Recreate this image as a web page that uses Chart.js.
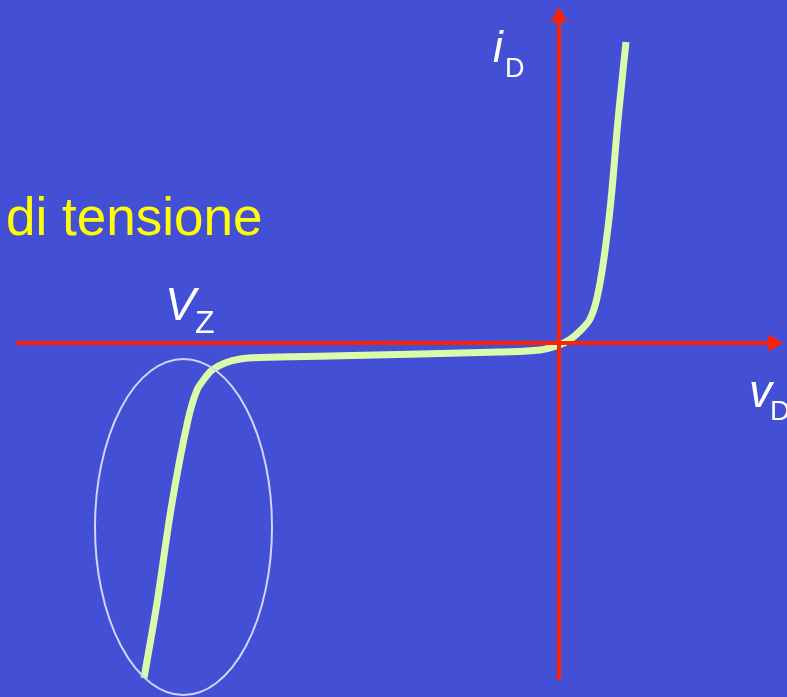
<!DOCTYPE html>
<html lang="it">
<head>
  <meta charset="UTF-8" />
  <title>Diodo Zener - caratteristica</title>
  <script src="https://cdn.jsdelivr.net/npm/chart.js"></script>
  <style>
    body {
      margin: 0;
      padding: 0;
      background: #4350d5;
      overflow: hidden;
    }
    canvas { display: block; }
  </style>
</head>
<body>
  <canvas id="zener" width="787" height="697"></canvas>

  <script>
    // characteristic curve (vD, iD in arbitrary units)
    const vD = [-4.15, -4.02, -3.87, -3.71, -3.62, -3.54, -3.47, -3.34, -3.19,
                -2.99, -2.29, -1.39, -0.59, -0.19, 0.00, 0.11, 0.21, 0.31, 0.38, 0.45, 0.52, 0.59, 0.67];
    const iD = [-3.35, -2.60, -1.60, -0.77, -0.47, -0.35, -0.27, -0.20, -0.16,
                -0.145, -0.13, -0.11, -0.09, -0.07, -0.02, 0.035, 0.12, 0.24, 0.45, 0.85, 1.43, 2.23, 3.01];

    // axes extents and view window
    const vAxis = [-5.43, 2.142];
    const iAxis = [-3.37, 3.262];
    const vRange = [-5.59, 2.28];
    const iRange = [-3.54, 3.43];

    // breakdown region highlight: centre and radii
    const zoneCenter = [-3.755, -1.84];
    const zoneRadii = [0.885, 1.68];

    const curve = vD.map((v, k) => ({ x: v, y: iD[k] }));

    const RED = "#ff2200";

    const overlay = {
      id: "overlay",
      afterDatasetsDraw(chart) {
        const { ctx, scales: { x, y } } = chart;
        const cx = x.getPixelForValue(zoneCenter[0]);
        const cy = y.getPixelForValue(zoneCenter[1]);
        const rx = x.getPixelForValue(zoneCenter[0] + zoneRadii[0]) - cx;
        const ry = cy - y.getPixelForValue(zoneCenter[1] + zoneRadii[1]);
        ctx.save();
        ctx.beginPath();
        ctx.ellipse(cx, cy, rx, ry, 0, 0, Math.PI * 2);
        ctx.strokeStyle = "#d2d5f5";
        ctx.lineWidth = 2;
        ctx.stroke();

        const txt = (s, px, py, font, color) => {
          ctx.font = font;
          ctx.fillStyle = color;
          ctx.fillText(s, px, py);
        };
        const sans = "'Liberation Sans', Arial, sans-serif";
        ctx.textBaseline = "alphabetic";
        txt("di tensione", 6, 235, "53px " + sans, "#ffff00");
        txt("V", 165, 320, "italic 46px " + sans, "#ffffff");
        txt("Z", 195, 333, "32px " + sans, "#ffffff");
        txt("i", 493, 62, "italic 44px " + sans, "#ffffff");
        txt("D", 505, 77, "27px " + sans, "#ffffff");
        txt("v", 749, 407, "italic 46px " + sans, "#ffffff");
        txt("D", 770, 420, "28px " + sans, "#ffffff");
        ctx.restore();
      }
    };

    new Chart(document.getElementById("zener"), {
      type: "scatter",
      data: {
        datasets: [
          {
            // v axis
            data: [{ x: vAxis[0], y: 0 }, { x: vAxis[1], y: 0 }],
            showLine: true,
            borderColor: RED,
            borderWidth: 4,
            pointRadius: [0, 9.8],
            pointStyle: "triangle",
            rotation: 90,
            pointBackgroundColor: RED,
            pointBorderWidth: 0,
            clip: false
          },
          {
            // i axis
            data: [{ x: 0, y: iAxis[0] }, { x: 0, y: iAxis[1] }],
            showLine: true,
            borderColor: RED,
            borderWidth: 4,
            pointRadius: [0, 9.8],
            pointStyle: "triangle",
            rotation: 0,
            pointBackgroundColor: RED,
            pointBorderWidth: 0,
            clip: false
          },
          {
            data: curve,
            showLine: true,
            borderColor: "#d9fca8",
            borderWidth: 7,
            borderCapStyle: "butt",
            tension: 0.35,
            pointRadius: 0,
            clip: false
          }
        ]
      },
      options: {
        responsive: false,
        animation: false,
        events: [],
        layout: { padding: 0, autoPadding: false },
        plugins: {
          legend: { display: false },
          tooltip: { enabled: false },
          title: { display: false }
        },
        scales: {
          x: { type: "linear", min: vRange[0], max: vRange[1], display: false },
          y: { type: "linear", min: iRange[0], max: iRange[1], display: false }
        }
      },
      plugins: [overlay]
    });
  </script>
</body>
</html>
